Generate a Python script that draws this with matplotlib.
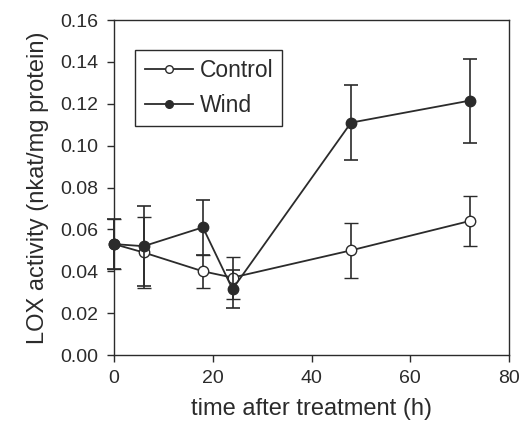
import numpy as np
import matplotlib.pyplot as plt
from matplotlib.lines import Line2D

plt.rcParams['font.family'] = ['Liberation Sans', 'DejaVu Sans']

# LOX activity after treatment
times = [0, 6, 18, 24, 48, 72]
control = [0.053, 0.049, 0.040, 0.037, 0.050, 0.064]
control_err = [0.012, 0.017, 0.008, 0.010, 0.013, 0.012]
wind = [0.053, 0.052, 0.061, 0.0315, 0.111, 0.1215]
wind_err = [0.012, 0.019, 0.013, 0.009, 0.018, 0.020]

ink = '#2b2b2b'

fig = plt.figure(figsize=(5.31, 4.33), dpi=100)
ax = fig.add_axes([0.2147, 0.180, 0.7439, 0.7737])

c = ax.errorbar(times, control, yerr=control_err, color=ink, lw=1.3,
                marker='o', ms=7.5, mfc='white', mec=ink, mew=1.0,
                capsize=5, elinewidth=1.2, capthick=1.2, zorder=3)
w = ax.errorbar(times, wind, yerr=wind_err, color=ink, lw=1.3,
                marker='o', ms=7.5, mfc=ink, mec=ink,
                capsize=5, elinewidth=1.2, capthick=1.2, zorder=4)
# nada recortado en x=0
for cont in (c, w):
    for art in cont.get_children():
        art.set_clip_on(False)

ax.set_xlim(0, 80)
ax.set_ylim(0, 0.16)
ax.set_xticks(np.arange(0, 81, 20))
ax.set_yticks(np.arange(0, 0.161, 0.02))
ax.yaxis.set_major_formatter(plt.FormatStrFormatter('%.2f'))
ax.tick_params(direction='out', length=5, width=1.0, color=ink,
               labelsize=14, labelcolor=ink, pad=6)
for s in ax.spines.values():
    s.set_color(ink)
    s.set_linewidth(1.0)

ax.set_xlabel('time after treatment (h)', fontsize=17, color=ink, labelpad=8)
ax.set_ylabel('LOX activity (nkat/mg protein)', fontsize=17, color=ink, labelpad=8)

handles = [
    Line2D([], [], color=ink, lw=1.3, marker='o', ms=5.5, mfc='white', mec=ink, mew=1.0),
    Line2D([], [], color=ink, lw=1.3, marker='o', ms=5.5, mfc=ink, mec=ink),
]
leg = ax.legend(handles, ['Control', 'Wind'], loc='upper left',
                bbox_to_anchor=(0.025, 0.945), fontsize=16.5,
                frameon=True, fancybox=False, edgecolor=ink, framealpha=1,
                handlelength=2.1, borderpad=0.4,
                labelspacing=0.5, handletextpad=0.3)
leg.get_frame().set_linewidth(1.0)
for t in leg.get_texts():
    t.set_color(ink)

fig.savefig('out.png', dpi=100)
